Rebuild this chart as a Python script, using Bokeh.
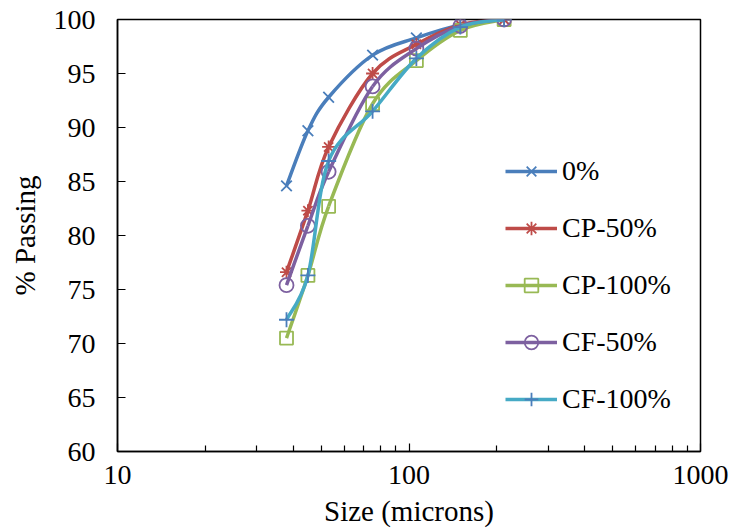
import numpy as np
from bokeh.plotting import figure
from bokeh.models import (Range1d, FixedTicker, PrintfTickFormatter, Legend, LegendItem,
                          ColumnDataSource)
from bokeh.embed import file_html
from bokeh.resources import INLINE

# ---- data ----
sizes = [38, 45, 53, 75, 106, 150, 212]
s_0 = [84.6, 89.7, 92.8, 96.7, 98.3, 99.5, 100.0]
s_cp50 = [76.6, 82.3, 88.2, 95.0, 97.7, 99.5, 100.0]
s_cp100 = [70.5, 76.3, 82.7, 92.2, 96.2, 99.0, 100.0]
s_cf50 = [75.4, 80.9, 85.9, 93.8, 97.3, 99.4, 100.0]
s_cf100 = [72.2, 76.3, 86.9, 91.5, 96.4, 99.3, 100.0]
labels = ["0%", "CP-50%", "CP-100%", "CF-50%", "CF-100%"]
series = [s_0, s_cp50, s_cp100, s_cf50, s_cf100]
y_ticks = [60, 65, 70, 75, 80, 85, 90, 95, 100]
x_ticks = [10, 100, 1000]

line_colors = ["#4A7EBB", "#BE4B48", "#98B954", "#7D60A0", "#46AAC5"]
marker_colors = ["#4A7EBB", "#BE4B48", "#98B954", "#7D60A0", "#4A7EBB"]
markers = ["x", "asterisk", "square", "circle", "cross"]
marker_sizes = [15, 13, 13, 14, 15]

FONT = "'Liberation Serif', 'Times New Roman', Times, serif"

p = figure(width=734, height=529, x_axis_type="log", output_backend="svg",
           toolbar_location=None, x_range=Range1d(10, 1000), y_range=Range1d(60, 100),
           min_border_left=117, min_border_right=34, min_border_top=19, min_border_bottom=77)
p.xgrid.visible = False
p.ygrid.visible = False
p.outline_line_color = "black"
p.outline_line_width = 1.5
p.background_fill_color = "white"
p.border_fill_color = "white"

minor = [a * 10 ** e for e in (1, 2) for a in range(2, 10)]
p.xaxis.ticker = FixedTicker(ticks=x_ticks, minor_ticks=minor)
p.xaxis.formatter = PrintfTickFormatter(format="%d")
p.yaxis.ticker = FixedTicker(ticks=y_ticks, minor_ticks=[])

for ax in (p.xaxis[0], p.yaxis[0]):
    ax.axis_line_color = "black"
    ax.axis_line_width = 1.5
    ax.major_tick_line_color = "black"
    ax.major_tick_line_width = 1.2
    ax.minor_tick_line_color = "black"
    ax.minor_tick_line_width = 1.2
    ax.major_tick_in = 8
    ax.major_tick_out = 0
    ax.minor_tick_in = 6
    ax.minor_tick_out = 0
    ax.major_label_text_font = FONT
    ax.major_label_text_font_size = "28px"
    ax.major_label_text_color = "black"
    ax.axis_label_text_font = FONT
    ax.axis_label_text_font_size = "29px"
    ax.axis_label_text_font_style = "normal"
    ax.axis_label_text_color = "black"

p.xaxis.axis_label = "Size (microns)"
p.yaxis.axis_label = "% Passing"
p.xaxis.major_label_standoff = 14
p.xaxis.axis_label_standoff = 8
p.yaxis.major_label_standoff = 22
p.yaxis.axis_label_standoff = 10


def bezier_segments(xs, ys):
    u = np.log10(np.asarray(xs, dtype=float))
    v = np.asarray(ys, dtype=float)
    n = len(u)
    P = np.column_stack([u, v])
    x0, y0, x1, y1, cx0, cy0, cx1, cy1 = ([] for _ in range(8))
    for i in range(n - 1):
        pm = P[i - 1] if i > 0 else P[i]
        p0 = P[i]
        p1 = P[i + 1]
        pp = P[i + 2] if i + 2 < n else P[i + 1]
        c0 = p0 + (p1 - pm) / 6.0
        c1 = p1 - (pp - p0) / 6.0
        x0.append(10 ** p0[0]); y0.append(p0[1])
        x1.append(10 ** p1[0]); y1.append(p1[1])
        cx0.append(10 ** c0[0]); cy0.append(c0[1])
        cx1.append(10 ** c1[0]); cy1.append(c1[1])
    return dict(x0=x0, y0=y0, x1=x1, y1=y1, cx0=cx0, cy0=cy0, cx1=cx1, cy1=cy1)


items = []
for lab, ys, lc, mc, mk, ms in zip(labels, series, line_colors, marker_colors, markers, marker_sizes):
    src = ColumnDataSource(bezier_segments(sizes, ys))
    p.bezier(x0="x0", y0="y0", x1="x1", y1="y1", cx0="cx0", cy0="cy0", cx1="cx1", cy1="cy1",
             source=src, line_color=lc, line_width=3.5)
    leg_line = p.line(x=[float("nan")], y=[float("nan")], line_color=lc, line_width=3.5)
    sc = p.scatter(x=sizes, y=ys, marker=mk, size=ms, line_color=mc, fill_color=None,
                   line_width=1.8)
    items.append(LegendItem(label=lab, renderers=[leg_line, sc]))

legend = Legend(items=items, location=(388, 35), orientation="vertical",
                label_text_font=FONT, label_text_font_size="28px", label_text_color="black",
                glyph_width=52, glyph_height=34, label_height=34, spacing=23,
                label_standoff=5, padding=0, margin=0,
                border_line_color=None, background_fill_alpha=0)
p.add_layout(legend, "center")

open("out.html", "w").write(file_html(p, INLINE))
